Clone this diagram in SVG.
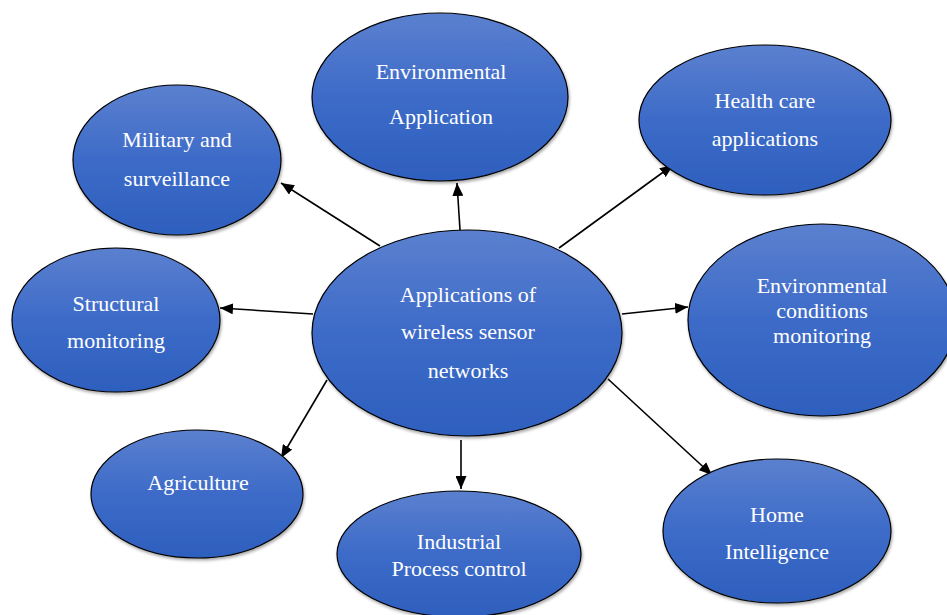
<svg xmlns="http://www.w3.org/2000/svg" width="947" height="615" viewBox="0 0 947 615">
<style>
.node ellipse{fill:url(#g);stroke:#000;stroke-width:1.2;filter:url(#sh)}
.node text{font-family:"Liberation Serif","Times New Roman",serif;font-size:22px;fill:#fff;text-anchor:middle}
#connectors line{stroke:#000;stroke-width:1.6;marker-end:url(#ah)}
</style>
<defs>
<linearGradient id="g" x1="0" y1="0" x2="0" y2="1">
<stop offset="0" stop-color="#5b80cf"/>
<stop offset="0.5" stop-color="#3d6bc8"/>
<stop offset="1" stop-color="#2e5fbe"/>
</linearGradient>
<filter id="sh" x="-10%" y="-10%" width="125%" height="130%">
<feDropShadow dx="1" dy="2" stdDeviation="1.5" flood-color="#000" flood-opacity="0.35"/>
</filter>
<marker id="ah" markerUnits="userSpaceOnUse" markerWidth="13" markerHeight="11" refX="13" refY="5.5" orient="auto">
<path d="M0,0 L13,5.5 L0,11 z" fill="#000"/>
</marker>
</defs>
<rect width="947" height="615" fill="#fff"/>
<g id="connectors">
<line x1="380" y1="246" x2="281" y2="183"/>
<line x1="460" y1="230" x2="457" y2="183"/>
<line x1="559" y1="248" x2="673" y2="165"/>
<line x1="313" y1="314" x2="220" y2="308"/>
<line x1="622" y1="314" x2="688" y2="307"/>
<line x1="327" y1="380" x2="281" y2="458"/>
<line x1="461" y1="440" x2="461" y2="489"/>
<line x1="608" y1="379" x2="712" y2="475"/>
</g>
<g id="military" class="node">
<ellipse cx="177" cy="160" rx="104" ry="75"/>
<text x="177" y="147">Military and</text>
<text x="177" y="186">surveillance</text>
</g>
<g id="envapp" class="node">
<ellipse cx="440" cy="97" rx="128" ry="84"/>
<text x="441" y="79">Environmental</text>
<text x="441" y="124">Application</text>
</g>
<g id="health" class="node">
<ellipse cx="765" cy="120" rx="126" ry="75"/>
<text x="765" y="108">Health care</text>
<text x="765" y="146">applications</text>
</g>
<g id="structural" class="node">
<ellipse cx="116" cy="320" rx="104" ry="72"/>
<text x="116" y="311">Structural</text>
<text x="116" y="348">monitoring</text>
</g>
<g id="envcond" class="node">
<ellipse cx="822" cy="320" rx="134" ry="96"/>
<text x="822" y="293">Environmental</text>
<text x="822" y="318">conditions</text>
<text x="822" y="343">monitoring</text>
</g>
<g id="agriculture" class="node">
<ellipse cx="197" cy="494" rx="106" ry="64"/>
<text x="198" y="490">Agriculture</text>
</g>
<g id="industrial" class="node">
<ellipse cx="459" cy="554" rx="122" ry="63"/>
<text x="459" y="549">Industrial</text>
<text x="459" y="576">Process control</text>
</g>
<g id="home" class="node">
<ellipse cx="777" cy="531" rx="114" ry="72"/>
<text x="777" y="522">Home</text>
<text x="777" y="559">Intelligence</text>
</g>
<g id="center" class="node">
<ellipse cx="467" cy="333" rx="155" ry="103"/>
<text x="468" y="302">Applications of</text>
<text x="468" y="339">wireless sensor</text>
<text x="468" y="378">networks</text>
</g>
</svg>
